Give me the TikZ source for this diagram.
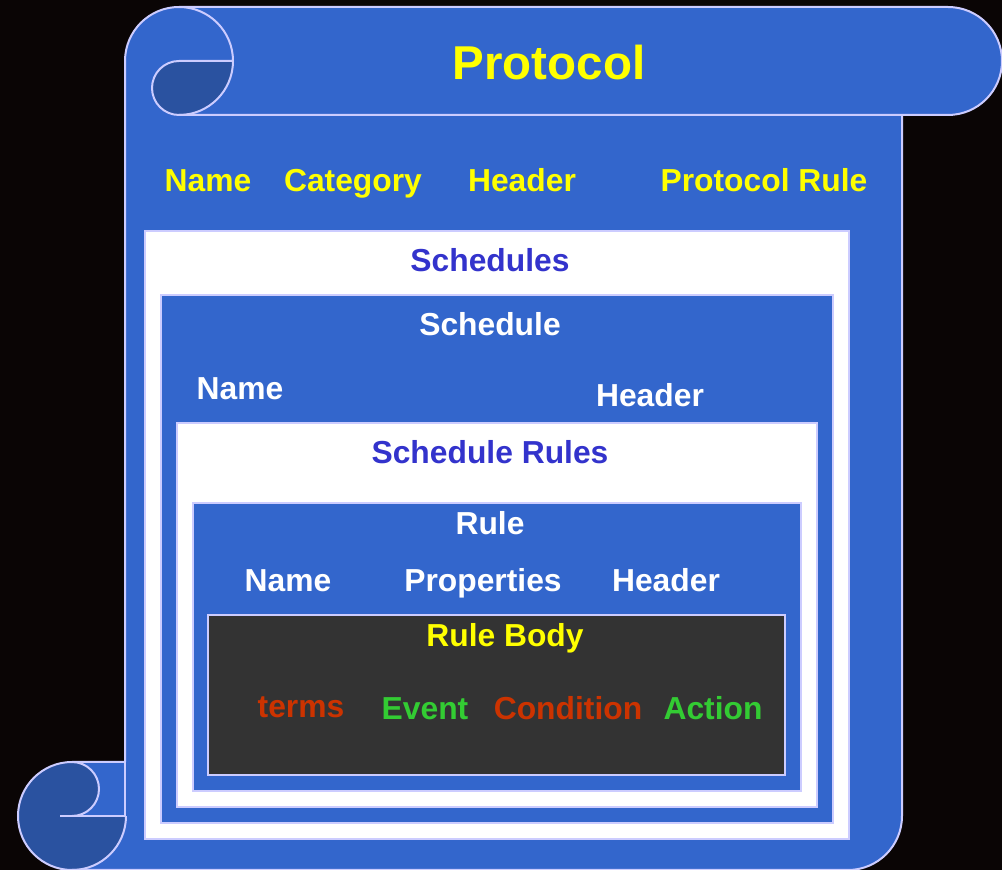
\documentclass[tikz,border=0pt]{standalone}
\usepackage{fontspec}
\setmainfont{Liberation Sans}
\definecolor{bgc}{HTML}{0A0505}
\definecolor{bodyc}{HTML}{3366CC}
\definecolor{darkc}{HTML}{2A52A0}
\definecolor{edgec}{HTML}{CCCCFF}
\definecolor{rulebodyc}{HTML}{333333}
\definecolor{purplec}{HTML}{3333CC}
\definecolor{redc}{HTML}{CC3300}
\definecolor{greenc}{HTML}{33CC33}
\definecolor{yellowc}{HTML}{FFFF00}
\begin{document}
\begin{tikzpicture}[x=1pt,y=1pt,
  edge/.style={draw=edgec,line width=2pt},
  whitebox/.style={edge,fill=white},
  bluebox/.style={edge,fill=bodyc},
  lbl/.style={anchor=base,font=\bfseries\fontsize{31.8}{38}\selectfont,inner sep=0pt},
  big/.style={anchor=base,font=\bfseries\fontsize{47.5}{57}\selectfont,inner sep=0pt}]
\useasboundingbox (0,0) rectangle (1002,870);
\fill[bgc] (0,0) rectangle (1002,870);
% scroll body
\fill[bodyc] (125,809) arc[start angle=180,end angle=90,radius=54] -- (948,863)
  arc[start angle=90,end angle=-90,radius=54] -- (902,755) -- (902,54)
  arc[start angle=0,end angle=-90,radius=54] -- (72,0)
  arc[start angle=-90,end angle=-270,radius=54] -- (125,108) -- cycle;
% top-left curl dark part
\fill[darkc] (233,809) arc[start angle=0,end angle=-90,radius=54]
  arc[start angle=-90,end angle=-270,radius=27] -- cycle;
% bottom-left curl
\fill[darkc] (72,54) circle[radius=54];
\fill[bodyc] (72,108) -- (125,108) -- (125,54) -- (72,54)
  arc[start angle=-90,end angle=90,radius=27] -- cycle;
% outlines
\draw[edge] (125,108) -- (125,809) arc[start angle=180,end angle=-90,radius=54]
  arc[start angle=-90,end angle=-270,radius=27] -- (233,809);
\draw[edge] (179,755) -- (948,755) arc[start angle=-90,end angle=90,radius=54] -- (179,863);
\draw[edge] (902,755) -- (902,54) arc[start angle=0,end angle=-90,radius=54] -- (72,0);
\draw[edge] (125,108) -- (72,108) arc[start angle=90,end angle=360,radius=54];
\draw[edge] (72,108) arc[start angle=90,end angle=-90,radius=27];
\draw[edge] (60,54) -- (125,54) -- (125,108);
% nested boxes
\draw[whitebox] (145,31) rectangle (849,639);
\draw[bluebox] (161,47) rectangle (833,575);
\draw[whitebox] (177,63) rectangle (817,447);
\draw[bluebox] (193,79) rectangle (801,367);
\draw[edge,fill=rulebodyc] (208,95) rectangle (785,255);
% texts
\node[big,text=yellowc] (protocol) at (549,790) {Protocol};
\node[lbl,text=yellowc] (pname) at (208,678) {Name};
\node[lbl,text=yellowc] (pcat) at (353,678) {Category};
\node[lbl,text=yellowc] (phead) at (522,678) {Header};
\node[lbl,text=yellowc] (prule) at (764,678) {Protocol Rule};
\node[lbl,text=purplec] (schedules) at (490,598) {Schedules};
\node[lbl,text=white] (schedule) at (490,534) {Schedule};
\node[lbl,text=white] (sname) at (240,470) {Name};
\node[lbl,text=white] (shead) at (650,463) {Header};
\node[lbl,text=purplec] (srules) at (490,406) {Schedule Rules};
\node[lbl,text=white] (rule) at (490,335) {Rule};
\node[lbl,text=white] (rname) at (288,278) {Name};
\node[lbl,text=white] (rprop) at (483,278) {Properties};
\node[lbl,text=white] (rhead) at (666,278) {Header};
\node[lbl,text=yellowc] (rbody) at (505,223) {Rule Body};
\node[lbl,text=redc] (terms) at (301,152) {terms};
\node[lbl,text=greenc] (event) at (425,150) {Event};
\node[lbl,text=redc] (cond) at (568,150) {Condition};
\node[lbl,text=greenc] (action) at (713,150) {Action};
\end{tikzpicture}
\end{document}
